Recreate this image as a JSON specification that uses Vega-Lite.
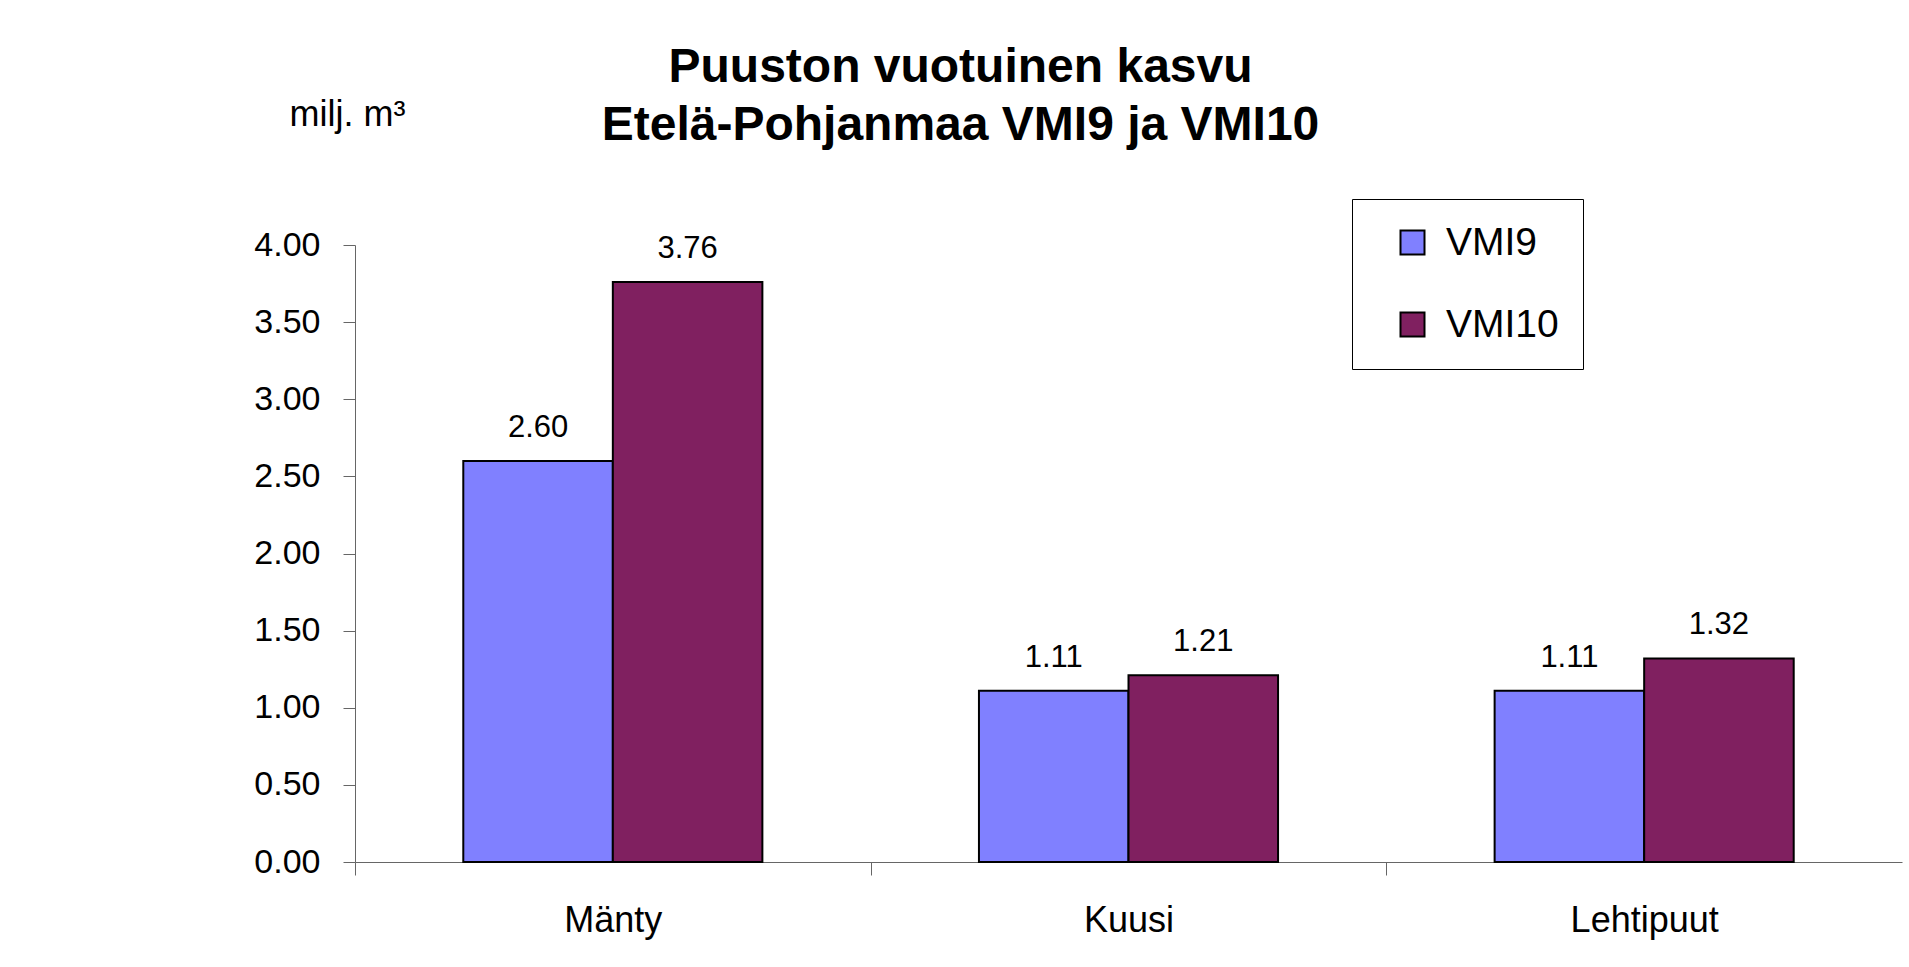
{
  "$schema": "https://vega.github.io/schema/vega-lite/v6.json",
  "autosize": {"type": "none"},
  "padding": {"left": 355, "top": 245, "right": 7, "bottom": 105},
  "width": 1547,
  "height": 617,
  "background": "white",
  "config": {
    "view": {"stroke": null},
    "font": "Liberation Sans",
    "axis": {"grid": false}
  },
  "title": {
    "text": ["Puuston vuotuinen kasvu", "Etelä-Pohjanmaa VMI9 ja VMI10"],
    "font": "Liberation Sans",
    "fontSize": 48,
    "fontWeight": "bold",
    "lineHeight": 58,
    "anchor": "middle",
    "frame": "group",
    "dx": -168,
    "dy": 58,
    "color": "black"
  },
  "data": {
    "values": [
      {"species": "Mänty", "inventory": "VMI9", "value": 2.60},
      {"species": "Mänty", "inventory": "VMI10", "value": 3.76},
      {"species": "Kuusi", "inventory": "VMI9", "value": 1.11},
      {"species": "Kuusi", "inventory": "VMI10", "value": 1.21},
      {"species": "Lehtipuut", "inventory": "VMI9", "value": 1.11},
      {"species": "Lehtipuut", "inventory": "VMI10", "value": 1.32}
    ]
  },
  "encoding": {
    "x": {
      "field": "species",
      "type": "nominal",
      "sort": ["Mänty", "Kuusi", "Lehtipuut"],
      "scale": {"paddingInner": 0.42, "paddingOuter": 0.21},
      "axis": {
        "title": null,
        "labelAngle": 0,
        "labelFontSize": 36,
        "labelColor": "black",
        "labelPadding": 28,
        "tickSize": 13,
        "tickOffset": -257.83,
        "labelOffset": 257.83,
        "tickColor": "#666666",
        "domainColor": "#666666",
        "domainWidth": 1,
        "tickWidth": 1
      }
    },
    "xOffset": {"field": "inventory", "type": "nominal", "sort": ["VMI9", "VMI10"]},
    "y": {
      "field": "value",
      "type": "quantitative",
      "scale": {"domain": [0, 4], "nice": false},
      "axis": {
        "values": [0, 0.5, 1, 1.5, 2, 2.5, 3, 3.5, 4],
        "format": ".2f",
        "labelFontSize": 34,
        "labelColor": "black",
        "labelPadding": 23,
        "tickSize": 12,
        "tickColor": "#666666",
        "domainColor": "#666666",
        "title": "milj. m³",
        "titleAngle": 0,
        "titleAlign": "left",
        "titleBaseline": "alphabetic",
        "titleX": -66,
        "titleY": -120,
        "titleFontSize": 36,
        "titleFontWeight": "normal",
        "titleColor": "black"
      }
    }
  },
  "layer": [
    {
      "mark": {"type": "bar", "stroke": "black", "strokeWidth": 2},
      "encoding": {
        "color": {
          "field": "inventory",
          "type": "nominal",
          "sort": ["VMI9", "VMI10"],
          "scale": {"domain": ["VMI9", "VMI10"], "range": ["#8080FF", "#802060"]},
          "legend": {
            "title": null,
            "orient": "none",
            "legendX": 997,
            "legendY": -46,
            "fillColor": "white",
            "strokeColor": "black",
            "padding": 24,
            "symbolType": "square",
            "symbolSize": 576,
            "symbolStrokeColor": "black",
            "symbolStrokeWidth": 2,
            "symbolOffset": 17,
            "labelFontSize": 39,
            "labelColor": "black",
            "labelOffset": 14,
            "rowPadding": 42
          }
        }
      }
    },
    {
      "mark": {"type": "text", "fontSize": 31, "dy": -24, "baseline": "alphabetic", "color": "black"},
      "encoding": {
        "text": {"field": "value", "type": "quantitative", "format": ".2f"}
      }
    }
  ]
}
